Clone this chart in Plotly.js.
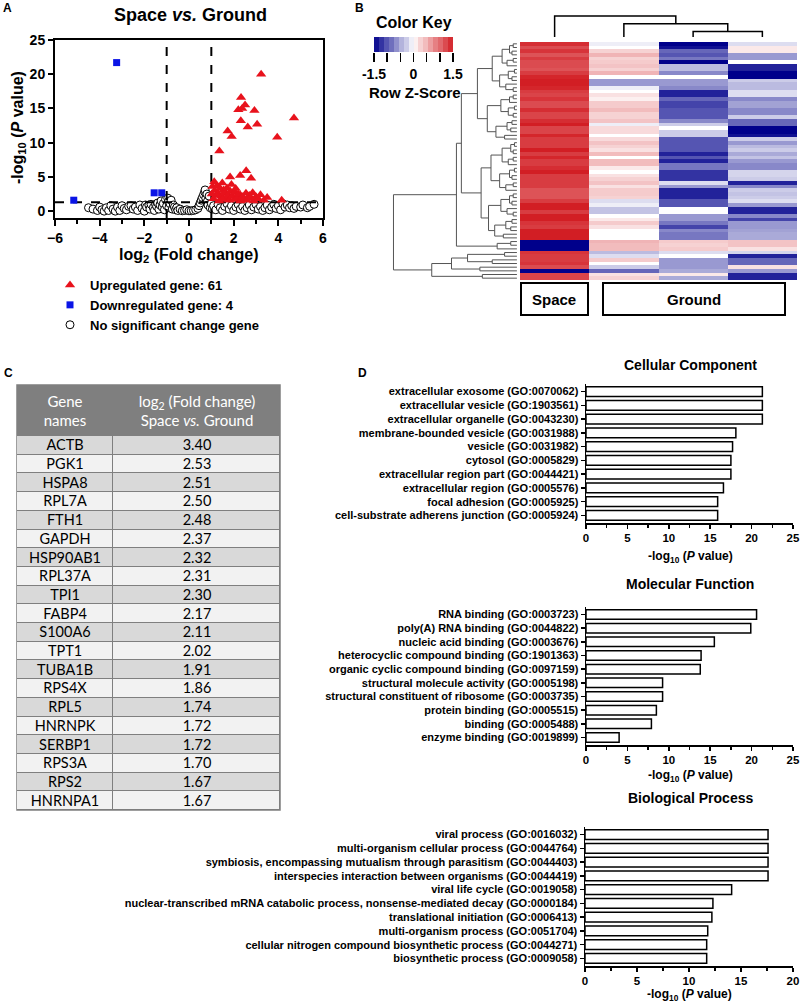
<!DOCTYPE html>
<html><head><meta charset="utf-8">
<script src="https://cdn.plot.ly/plotly-3.0.1.min.js"></script>
<style>html,body{margin:0;padding:0;background:#fff}#chart{width:800px;height:1003px}</style>
</head><body><div id="chart"></div>
<script>
// ---------------- DATA ----------------
// Volcano plot (A)
const upX = [3.23,2.33,2.51,2.21,2.38,2.93,2.32,2.63,3.05,1.73,1.91,1.36,2.56,2.29,2.78,1.84,1.13,1.49,2.09,2.29,4.70,3.95,4.15,1.05,1.15,1.25,1.3,1.4,1.45,1.55,1.6,1.65,1.7,1.75,1.8,1.85,1.95,2.0,2.05,2.15,2.2,2.3,2.4,2.45,2.55,2.6,2.7,2.75,2.85,2.9,3.0,3.1,3.2,3.35,3.5,1.1,1.2,1.35,1.5,1.02,1.9];
const upY = [20.0,16.6,15.5,14.8,15.0,14.7,13.2,12.3,12.7,11.7,10.9,8.8,5.9,5.2,4.8,5.0,4.3,4.1,3.3,2.4,13.6,10.8,1.6,3.6,3.0,3.7,2.6,3.3,2.2,3.1,2.7,1.9,3.4,2.4,1.6,2.9,2.2,1.7,2.8,1.9,2.5,1.5,2.1,1.8,2.6,1.6,2.3,1.9,2.7,1.5,2.1,1.8,2.4,1.6,2.0,1.8,2.3,1.5,1.7,2.5,3.9];
const downX = [-3.24,-5.16,-1.56,-1.22];
const downY = [21.7,1.6,2.68,2.68];
const nsX = [-4.5,-4.3,-4.1,-4.0,-3.9,-3.8,-3.7,-3.6,-3.5,-3.4,-3.3,-3.2,-3.1,-3.0,-2.9,-2.8,-2.7,-2.6,-2.5,-2.4,-2.3,-2.2,-2.1,-2.0,-1.95,-1.9,-1.8,-1.75,-1.7,-1.6,-1.55,-1.5,-1.45,-1.4,-1.35,-1.3,-1.25,-1.2,-1.15,-1.1,-1.05,-1.0,-0.95,-0.92,-0.9,-0.85,-0.8,-0.75,-0.7,-0.65,-0.6,-0.55,-0.5,-0.4,-0.3,-0.2,-0.1,0.0,0.1,0.2,0.3,0.4,0.45,0.5,0.55,0.6,0.65,0.7,0.72,0.75,0.8,0.82,0.85,0.9,0.95,1.0,1.05,1.1,1.2,1.3,1.4,1.5,1.6,1.7,1.8,1.9,2.0,2.1,2.2,2.3,2.4,2.5,2.6,2.7,2.8,2.9,3.0,3.1,3.2,3.3,3.4,3.5,3.6,3.7,3.8,3.9,4.0,4.1,4.2,4.3,4.4,4.5,4.6,4.7,4.8,5.0,5.1,5.3,5.4,5.6];
const nsY = [0.5,0.3,0.1,0.6,0.2,0.0,0.5,0.1,0.8,0.3,0.0,0.6,0.1,0.8,0.4,0.2,0.7,0.8,0.3,0.6,0.1,0.9,0.4,0.0,0.9,0.6,0.9,0.3,1.0,0.5,0.1,1.0,0.7,1.2,0.3,0.9,1.5,0.6,1.1,0.2,1.7,0.8,1.9,1.4,0.5,1.1,1.6,0.3,0.9,0.6,0.2,0.5,0.1,0.3,0.05,0.1,0.2,0.05,0.05,0.1,0.2,0.4,0.8,1.2,1.6,2.0,2.4,2.8,3.1,1.9,2.5,1.4,0.9,2.2,0.5,1.1,0.3,0.8,0.2,1.0,0.5,0.1,0.7,1.1,0.3,0.8,0.1,0.6,1.0,0.3,0.7,0.1,0.5,0.9,0.2,0.6,1.0,0.3,0.7,0.1,0.5,0.9,0.2,0.6,1.0,0.4,0.8,0.2,1.1,0.6,0.9,0.5,0.8,0.4,0.7,0.6,0.9,0.5,0.7,1.0];
const fcThresholds = [-1, 1];
const pThreshold = 1.3;
const volcanoXRange = [-6, 6];
const volcanoYRange = [-1, 25];

// Heatmap (B): row Z-scores, one array per sample column
const spaceZ = [1.4,1.2,1.35,1.15,1.3,1.2,1.2,1.15,1.3,1.45,1.5,1.5,1.45,1.3,1.25,1.35,1.2,1.2,1.4,1.25,1.25,
  1.4,1.5,1.25,1.25,1.45,1.3,1.3,1.3,1.5,1.3,1.45,1.3,1.3,1.4,1.5,1.3,1.3,1.3,1.3,1.15,1.15,1.15,
  1.3,1.5,1.5,1.3,1.5,1.5,1.35,1.3,1.5,1.5,1.5,-1.5,-1.5,-1.5,1.35,1.3,1.3,1.35,1.2,-1.5,1.25,1.25];
const ground1Z = [-0.1,0,0.3,0.5,0.3,0.35,0.4,0.3,0.5,0,-0.6,-0.6,-0.1,0,0.2,0.1,0.35,0.35,0.45,0.3,0.3,
  0.4,-0.1,0.25,0.25,0,0.25,0.4,0.3,0.2,0.45,0,0.45,0.45,0.15,0,0.2,0.3,0.4,0.2,0.35,0.35,0.3,
  -0.2,-0.1,-0.35,-0.35,0,0.15,0.35,0.2,0,0,0,0.5,0.45,0.45,-0.4,-0.2,0.35,0,-0.3,-0.9,0.2,0.3];
const ground2Z = [-1.5,-1.4,-0.9,-1.0,-0.8,-1.5,-0.4,-0.4,-0.7,0,-0.6,-0.6,-0.7,-1.3,-1.3,-0.9,-1.1,-1.1,-1.0,-1.0,-1.0,
  -0.7,-0.3,0,-0.3,-0.3,-1.0,-1.0,-1.0,-1.0,-1.3,-1.0,-1.3,-0.8,-0.8,-1.2,-1.2,-1.2,-0.2,-0.6,-1.3,-1.3,-1.3,
  -1.0,-1.0,0,0,-0.6,-0.6,-0.8,-1.1,-0.7,-0.8,-0.8,0.35,0.3,0.35,-0.2,0,-0.6,-0.6,-0.6,-0.5,0.15,-0.5];
const ground3Z = [-0.2,0.15,0.15,-0.6,-0.6,0,-1.3,-1.3,-1.5,-1.5,-0.3,-0.4,-0.4,-0.2,-0.2,-0.7,-0.55,-0.55,-0.7,-0.7,-0.3,
  -0.9,-0.9,-1.5,-1.5,-1.4,-0.3,-0.6,-0.4,-0.3,-0.5,-0.35,-0.6,-0.7,-0.7,-0.25,-0.25,-0.3,-1.3,-0.7,-0.3,-0.35,-0.3,
  -0.2,-0.6,-1.3,-1.3,-0.7,-1.1,-0.6,-0.6,-0.55,-0.5,-0.5,0.4,0.4,0.2,-0.25,-1.3,-0.9,-0.9,0.2,-0.6,-1.3,-1.3];
// row dendrogram: [height, childA, childB]; leaves are row indices
const rowTree =
[1.00,
  [0.49,
    [0.45,
      [0.32,
        [0.20,
          [0.12, [0.06, [0.03, 0, 1], [0.04, 2, 3]], [0.08, [0.03, 4, 5], 6]],
          [0.14, [0.07, [0.02, 7, 8], [0.04, 9, 10]], [0.09, 11, [0.03, 12, 13]]]],
        [0.24,
          [0.13, [0.06, [0.03, 14, 15], 16], [0.07, [0.02, 17, 18], [0.03, 19, 20]]],
          [0.17, [0.08, [0.04, 21, 22], [0.05, 23, 24]], [0.10, 25, 26]]]],
      [0.29,
        [0.21,
          [0.12, [0.05, [0.02, 27, 28], [0.03, 29, 30]], [0.07, [0.03, 31, 32], 33]],
          [0.14, [0.06, [0.02, 34, 35], [0.04, 36, 37]], [0.09, [0.03, 38, 39], 40]]],
        [0.23,
          [0.13, [0.06, [0.03, 41, 42], [0.04, 43, 44]], [0.08, 45, [0.03, 46, 47]]],
          [0.18, [0.09, [0.04, 48, 49], [0.05, 50, 51]], [0.11, 52, 53]]]]],
    [0.16, [0.05, 54, 55], 56]],
  [0.69,
    [0.53, [0.40, [0.10, 57, 58], [0.20, 59, 60]], [0.30, 61, 62]],
    [0.28, 63, 64]]];
const colTree = [1.0, 0, [0.63, 1, [0.26, 2, 3]]];
const keyLevels = [-1.4,-1.2,-1.0,-0.85,-0.65,-0.45,-0.3,-0.1,0.1,0.3,0.45,0.65,0.85,1.0,1.2,1.4];
const keyTicks = [-1.5, -1, -0.5, 0, 0.5, 1, 1.5];
const keyTickText = ['-1.5', ' ', ' ', '0', ' ', ' ', '1.5'];

// Table (C)
const tableHeader = ['Gene<br>names', 'log<sub>2</sub> (Fold change)<br>Space <i>vs.</i> Ground'];
const geneNames = ['ACTB','PGK1','HSPA8','RPL7A','FTH1','GAPDH','HSP90AB1','RPL37A','TPI1','FABP4','S100A6','TPT1','TUBA1B','RPS4X','RPL5','HNRNPK','SERBP1','RPS3A','RPS2','HNRNPA1'];
const foldChanges = [3.40,2.53,2.51,2.50,2.48,2.37,2.32,2.31,2.30,2.17,2.11,2.02,1.91,1.86,1.74,1.72,1.72,1.70,1.67,1.67];

// GO enrichment (D)
const ccTerms = ['extracellular exosome (GO:0070062)','extracellular vesicle (GO:1903561)','extracellular organelle (GO:0043230)','membrane-bounded vesicle (GO:0031988)','vesicle (GO:0031982)','cytosol (GO:0005829)','extracellular region part (GO:0044421)','extracellular region (GO:0005576)','focal adhesion (GO:0005925)','cell-substrate adherens junction (GO:0005924)'];
const ccValues = [21.3,21.3,21.3,18.1,17.7,17.5,17.5,16.6,15.9,15.9];
const mfTerms = ['RNA binding (GO:0003723)','poly(A) RNA binding (GO:0044822)','nucleic acid binding (GO:0003676)','heterocyclic compound binding (GO:1901363)','organic cyclic compound binding (GO:0097159)','structural molecule activity (GO:0005198)','structural constituent of ribosome (GO:0003735)','protein binding (GO:0005515)','binding (GO:0005488)','enzyme binding (GO:0019899)'];
const mfValues = [20.6,19.9,15.5,13.9,13.8,9.25,9.25,8.5,7.9,4.0];
const bpTerms = ['viral process (GO:0016032)','multi-organism cellular process (GO:0044764)','symbiosis, encompassing mutualism through parasitism (GO:0044403)','interspecies interaction between organisms (GO:0044419)','viral life cycle (GO:0019058)','nuclear-transcribed mRNA catabolic process, nonsense-mediated decay (GO:0000184)','translational initiation (GO:0006413)','multi-organism process (GO:0051704)','cellular nitrogen compound biosynthetic process (GO:0044271)','biosynthetic process (GO:0009058)'];
const bpValues = [17.6,17.6,17.6,17.6,14.1,12.3,12.2,11.8,11.7,11.7];

// ---------------- BUILD ----------------
const W = 800, H = 1003;
const F = 'Liberation Sans, Arial, sans-serif';
const TF = 'Lato, sans-serif';
const px = v => v / W, py = v => 1 - v / H;
const colorscale = [[0, '#00008B'], [0.5, '#FFFFFF'], [1, '#D21E24']];

function dendro(node, xs, ys, rowWise) {
  if (typeof node === 'number') return {p: node, h: 0};
  const h = node[0];
  const a = dendro(node[1], xs, ys, rowWise), b = dendro(node[2], xs, ys, rowWise);
  const pts = [[a.h, a.p], [h, a.p], [h, b.p], [b.h, b.p]];
  pts.forEach(q => { if (rowWise) { xs.push(q[0]); ys.push(q[1]); } else { xs.push(q[1]); ys.push(q[0]); } });
  xs.push(null); ys.push(null);
  return {p: (a.p + b.p) / 2, h};
}
const rdx = [], rdy = []; dendro(rowTree, rdx, rdy, true);
const cdx = [], cdy = []; dendro(colTree, cdx, cdy, false);

const zRows = spaceZ.map((v, i) => [spaceZ[i], ground1Z[i], ground2Z[i], ground3Z[i]]);

// table geometry (in table-axis units = pixels)
const colWidths = [96, 167];
const headerH = 51, rowH = 18.7;
const xEdges = [0, colWidths[0], colWidths[0] + colWidths[1]];
const bodyEdges = [headerH];
geneNames.forEach(() => bodyEdges.push(bodyEdges[bodyEdges.length - 1] + rowH));
const tableTotal = bodyEdges[bodyEdges.length - 1];
const tableScale = [[0, '#7F7F7F'], [0.25, '#7F7F7F'], [0.25, '#D9D9D9'], [0.75, '#D9D9D9'], [0.75, '#F2F2F2'], [1, '#F2F2F2']];
const bodyZ = geneNames.map((g, i) => [1 + (i % 2), 1 + (i % 2)]);
const bodyText = geneNames.map((g, i) => [g, foldChanges[i].toFixed(2)]);

const boldFont = (size, color) => ({family: F, size, color: color || 'black', weight: 'bold'});

const traces = [
  {type: 'scatter', mode: 'markers', x: nsX, y: nsY, xaxis: 'x', yaxis: 'y', name: 'No significant change gene', legendrank: 3,
   marker: {symbol: 'circle', size: 8, color: 'white', line: {color: 'black', width: 1}}, cliponaxis: false},
  {type: 'scatter', mode: 'lines', x: [fcThresholds[0], fcThresholds[0], null, fcThresholds[1], fcThresholds[1]],
   y: [volcanoYRange[0], volcanoYRange[1], null, volcanoYRange[0], volcanoYRange[1]], xaxis: 'x', yaxis: 'y', showlegend: false,
   line: {color: 'black', width: 2, dash: 'dash'}},
  {type: 'scatter', mode: 'lines', x: volcanoXRange, y: [pThreshold, pThreshold], xaxis: 'x', yaxis: 'y', showlegend: false,
   line: {color: 'black', width: 2, dash: 'dash'}},
  {type: 'scatter', mode: 'markers', x: upX, y: upY, xaxis: 'x', yaxis: 'y', name: 'Upregulated gene: ' + upX.length, legendrank: 1,
   marker: {symbol: 'triangle-up', size: 9, color: '#E8121C'}},
  {type: 'scatter', mode: 'markers', x: downX, y: downY, xaxis: 'x', yaxis: 'y', name: 'Downregulated gene: ' + downX.length, legendrank: 2,
   marker: {symbol: 'square', size: 7, color: '#0A14E6'}},
  {type: 'heatmap', z: zRows, x: [0, 1, 2, 3], xaxis: 'x2', yaxis: 'y2', colorscale, zmin: -1.5, zmax: 1.5, showscale: false, showlegend: false},
  {type: 'heatmap', z: [keyLevels], x0: -1.5 + 3 / 32, dx: 3 / 16, y: [0], xaxis: 'x3', yaxis: 'y3', colorscale, zmin: -1.5, zmax: 1.5, showscale: false, showlegend: false},
  {type: 'scatter', mode: 'lines', x: rdx, y: rdy, xaxis: 'x4', yaxis: 'y4', showlegend: false, line: {color: '#555', width: 1}},
  {type: 'scatter', mode: 'lines', x: cdx, y: cdy, xaxis: 'x5', yaxis: 'y5', showlegend: false, line: {color: 'black', width: 1.5}},
  // table header
  {type: 'heatmap', z: [[0, 0]], x: xEdges, y: [0, headerH], text: [tableHeader], texttemplate: '%{text}',
   textfont: {family: TF, size: 15, color: 'white'}, xaxis: 'x9', yaxis: 'y9', colorscale: tableScale, zmin: 0, zmax: 2,
   showscale: false, xgap: 1, ygap: 1},
  // table body
  {type: 'heatmap', z: bodyZ, x: xEdges, y: bodyEdges, text: bodyText, texttemplate: '%{text}',
   textfont: {family: TF, size: 14.5, color: 'black'}, xaxis: 'x9', yaxis: 'y9', colorscale: tableScale, zmin: 0, zmax: 2,
   showscale: false, xgap: 1, ygap: 1},
  {type: 'bar', orientation: 'h', x: ccValues, y: ccTerms, xaxis: 'x6', yaxis: 'y6', width: 0.7, showlegend: false,
   marker: {color: 'white', line: {color: 'black', width: 1.5}}},
  {type: 'bar', orientation: 'h', x: mfValues, y: mfTerms, xaxis: 'x7', yaxis: 'y7', width: 0.7, showlegend: false,
   marker: {color: 'white', line: {color: 'black', width: 1.5}}},
  {type: 'bar', orientation: 'h', x: bpValues, y: bpTerms, xaxis: 'x8', yaxis: 'y8', width: 0.7, showlegend: false,
   marker: {color: 'white', line: {color: 'black', width: 1.5}}}
];

const hidden = {visible: false, fixedrange: true, showgrid: false, zeroline: false};
function goX(domain, yId, range) {
  return {domain, anchor: yId, range, dtick: 5, tick0: 0, ticks: 'outside', ticklen: 4, tickwidth: 1.5, tickcolor: 'black',
    showline: true, linewidth: 1.5, linecolor: 'black', showgrid: false, zeroline: false, tickfont: boldFont(11.5),
    minor: {dtick: 2.5, ticks: 'outside', ticklen: 3, tickwidth: 1.5, tickcolor: 'black'}};
}
function goY(domain, xId) {
  return {domain, anchor: xId, type: 'category', range: [9.55, -0.55], ticks: 'outside', ticklen: 4, tickwidth: 1.5, tickcolor: 'black',
    showline: true, linewidth: 1.5, linecolor: 'black', showgrid: false, zeroline: false, tickfont: boldFont(11)};
}

function ann(text, x, y, size, extra) {
  return Object.assign({text, x: px(x), y: py(y), xref: 'paper', yref: 'paper', showarrow: false, xanchor: 'center', yanchor: 'middle',
    font: boldFont(size)}, extra || {});
}

const layout = {
  width: W, height: H, margin: {l: 0, r: 0, t: 0, b: 0}, paper_bgcolor: 'white', plot_bgcolor: 'rgba(0,0,0,0)', hovermode: false,
  showlegend: true,
  legend: {x: px(50), y: py(270), xanchor: 'left', yanchor: 'top', font: boldFont(13), bgcolor: 'rgba(0,0,0,0)', tracegroupgap: 0},
  xaxis: {domain: [px(55), px(323)], anchor: 'y', range: volcanoXRange, dtick: 2, tick0: -6, ticks: 'outside', ticklen: 6, tickwidth: 2, tickcolor: 'black',
    showline: true, linewidth: 2, linecolor: 'black', mirror: true, showgrid: false, zeroline: false, tickfont: boldFont(14),
    minor: {dtick: 1, ticks: 'outside', ticklen: 4, tickwidth: 2, tickcolor: 'black'}},
  yaxis: {domain: [py(218), py(40)], anchor: 'x', range: volcanoYRange, dtick: 5, tick0: 0, ticks: 'outside', ticklen: 5, tickwidth: 2, tickcolor: 'black',
    showline: true, linewidth: 2, linecolor: 'black', mirror: true, showgrid: false, zeroline: false, tickfont: boldFont(14)},
  xaxis2: Object.assign({domain: [px(520), px(797)], anchor: 'y2', range: [-0.5, 3.5]}, hidden),
  yaxis2: Object.assign({domain: [py(280), py(42)], anchor: 'x2', range: [64.5, -0.5]}, hidden),
  xaxis3: {domain: [px(374), px(453)], anchor: 'y3', range: [-1.5, 1.5], tickmode: 'array', tickvals: keyTicks, ticktext: keyTickText,
    tickangle: 0, ticks: 'outside', ticklen: 9, tickwidth: 1.5, tickcolor: 'black', showline: false, showgrid: false, zeroline: false,
    tickfont: boldFont(14), fixedrange: true},
  yaxis3: Object.assign({domain: [py(52), py(37)], anchor: 'x3', range: [-0.5, 0.5]}, hidden),
  xaxis4: Object.assign({domain: [px(391), px(520)], anchor: 'y4', range: [1.02, -0.025]}, hidden),
  yaxis4: Object.assign({domain: [py(280), py(42)], anchor: 'x4', range: [64.5, -0.5]}, hidden),
  xaxis5: Object.assign({domain: [px(520), px(797)], anchor: 'y5', range: [-0.5, 3.5]}, hidden),
  yaxis5: Object.assign({domain: [py(37), py(15)], anchor: 'x5', range: [0, 1.05]}, hidden),
  xaxis6: goX([px(586), px(793)], 'y6', [0, 25]),
  yaxis6: goY([py(523), py(384)], 'x6'),
  xaxis7: goX([px(586), px(793)], 'y7', [0, 25]),
  yaxis7: goY([py(745), py(607)], 'x7'),
  xaxis8: goX([px(585), px(793)], 'y8', [0, 20]),
  yaxis8: goY([py(966), py(827)], 'x8'),
  xaxis9: Object.assign({domain: [px(17), px(280)], anchor: 'y9', range: [0, xEdges[2]]}, hidden),
  yaxis9: Object.assign({domain: [py(385 + tableTotal), py(385)], anchor: 'x9', range: [tableTotal, 0]}, hidden),
  shapes: [
    {type: 'rect', xref: 'x9 domain', yref: 'y9 domain', x0: 0, x1: 1, y0: 0, y1: 1, fillcolor: '#7F7F7F', line: {color: '#7F7F7F', width: 1.5}, layer: 'below'},
    {type: 'rect', xref: 'paper', yref: 'paper', x0: px(521), x1: px(588), y0: py(315), y1: py(283), line: {color: 'black', width: 2}},
    {type: 'rect', xref: 'paper', yref: 'paper', x0: px(603), x1: px(785), y0: py(315), y1: py(283), line: {color: 'black', width: 2}}
  ],
  annotations: [
    ann('A', 7, 8, 12), ann('B', 359, 8, 12), ann('C', 8, 373, 12), ann('D', 362, 373, 12),
    ann('Space <i>vs.</i> Ground', 190, 15, 18),
    ann('-log<sub>10</sub> (<i>P</i> value)', 19, 128, 16, {textangle: -90}),
    ann('log<sub>2</sub> (Fold change)', 189, 256, 16),
    ann('Color Key', 414, 22, 16),
    ann('Row Z-Score', 415, 92, 15),
    ann('Space', 554, 299, 15),
    ann('Ground', 694, 299, 15),
    ann('Cellular Component', 690, 365, 14),
    ann('Molecular Function', 690, 584, 14),
    ann('Biological Process', 690, 798, 14),
    ann('-log<sub>10</sub> (<i>P</i> value)', 690, 557, 12),
    ann('-log<sub>10</sub> (<i>P</i> value)', 690, 776, 12),
    ann('-log<sub>10</sub> (<i>P</i> value)', 689, 995, 12)
  ]
};

Plotly.newPlot('chart', traces, layout, {staticPlot: true, displayModeBar: false});
</script></body></html>
